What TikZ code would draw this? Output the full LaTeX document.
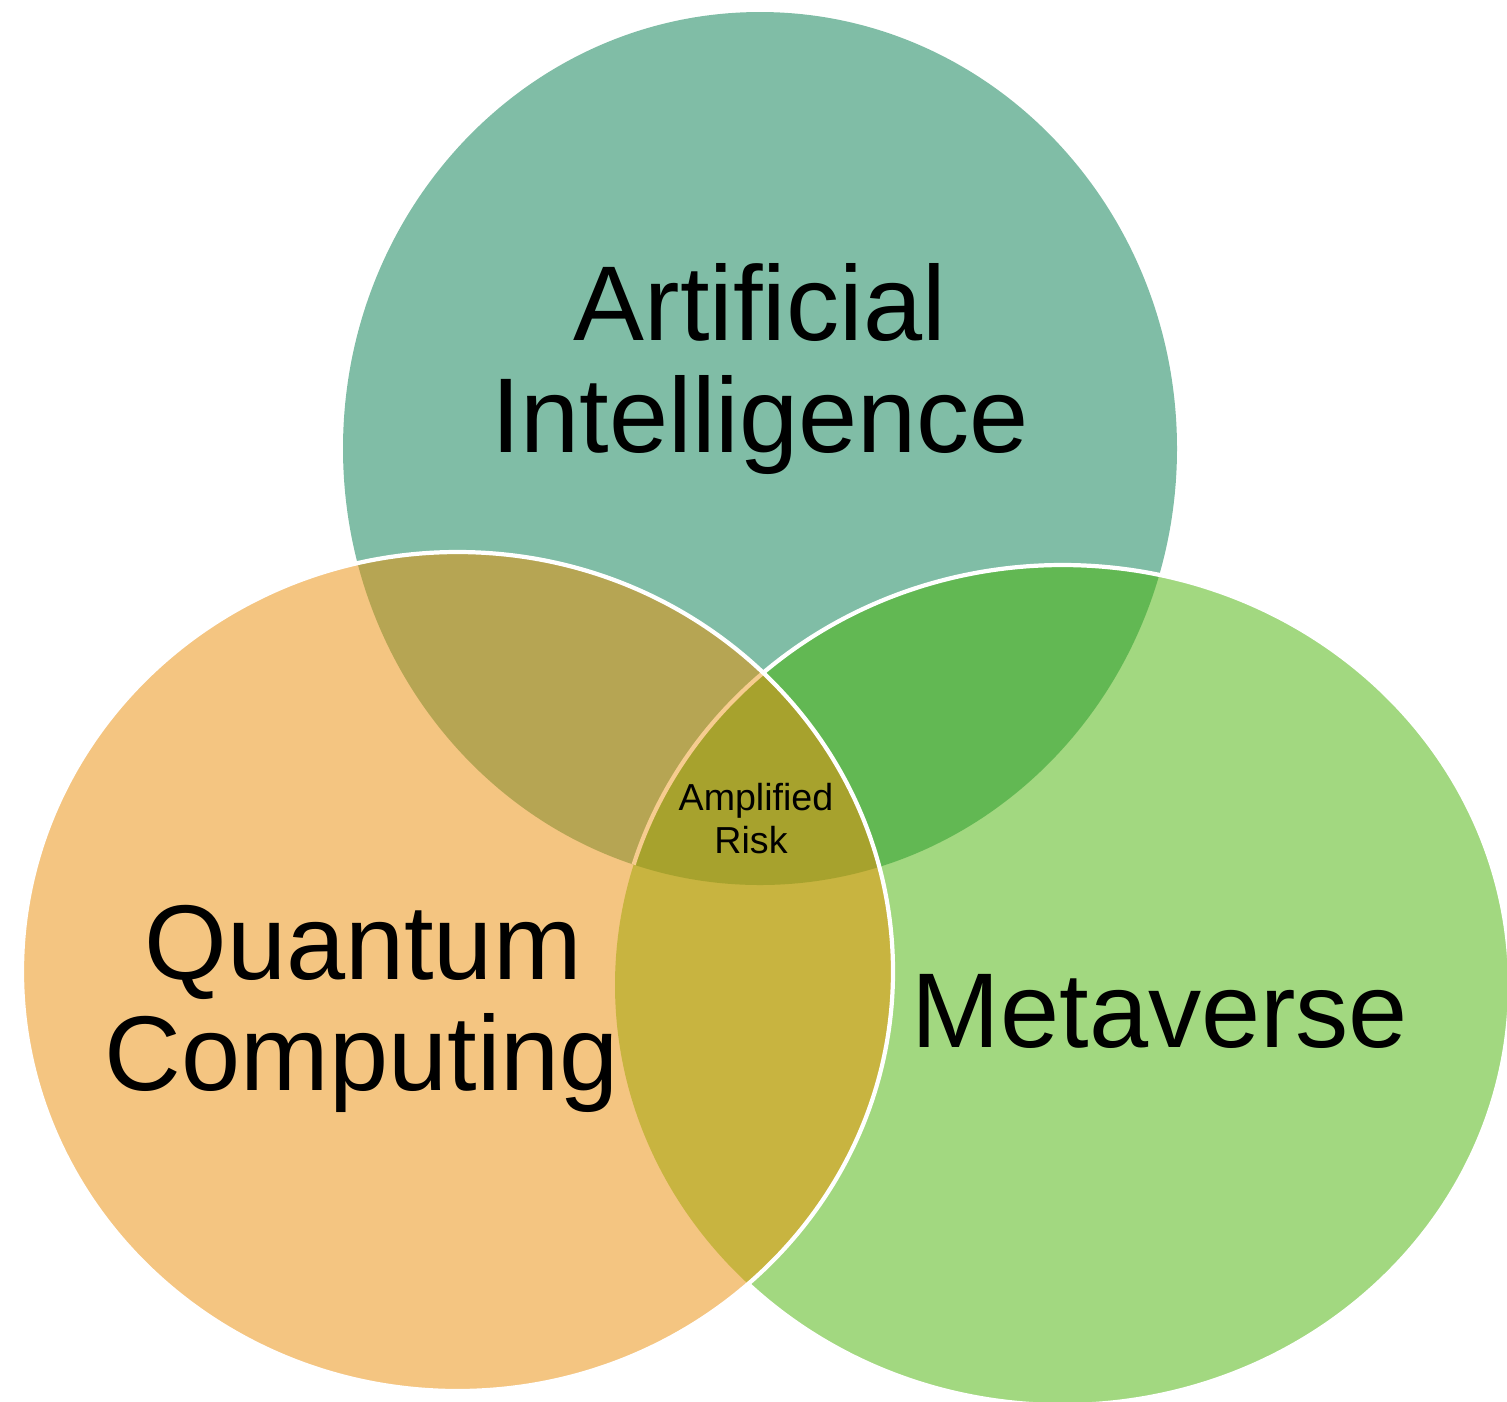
\documentclass[tikz,border=0pt]{standalone}
\usepackage{fontspec}
\setmainfont{Liberation Sans}
\definecolor{aifill}{HTML}{80BDA6}
\definecolor{qcfill}{HTML}{F4C581}
\definecolor{mvfill}{HTML}{A2D880}
\definecolor{aiqcfill}{HTML}{B6A553}
\definecolor{aimvfill}{HTML}{62B853}
\definecolor{qcmvfill}{HTML}{C8B440}
\definecolor{allfill}{HTML}{A7A22D}
\definecolor{softrim}{HTML}{F6CC8F}
\def\aishape{(760,448.5) ellipse [x radius=417, y radius=436.5]}
\def\qcshape{(457.5,971.5) ellipse [x radius=435.5, y radius=419.5]}
\def\mvshape{(1062.5,985) ellipse [x radius=447.5, y radius=420]}
\tikzset{
    rim/.style={draw=white, line width=2.4pt},
    bigtxt/.style={font=\fontsize{60.5}{64}\selectfont, anchor=base},
    smalltxt/.style={font=\fontsize{21.4}{24}\selectfont, anchor=base}
}
\begin{document}
\begin{tikzpicture}[x=0.02cm, y=-0.02cm]
    \useasboundingbox (0,0) rectangle (1507,1401);
    % the three sets
    \fill[aifill] \aishape;
    \fill[mvfill] \mvshape;
    \begin{scope}
        \clip \aishape;
        \fill[aimvfill] \mvshape;
    \end{scope}
    \draw[rim] \mvshape;
    \begin{scope}
        \clip \qcshape;
        \fill[qcfill] \qcshape;
        \begin{scope}
            \clip \aishape;
            \fill[aiqcfill] \qcshape;
        \end{scope}
        \begin{scope}
            \clip \mvshape;
            \fill[qcmvfill] \qcshape;
            \clip \aishape;
            \fill[allfill] \qcshape;
        \end{scope}
        \begin{scope}
            \clip \aishape;
            \draw[draw=softrim, line width=2.4pt] \mvshape;
        \end{scope}
    \end{scope}
    \draw[rim] \qcshape;
    % labels
    \node[bigtxt] (ai1) at (760,340) {Artificial};
    \node[bigtxt] (ai2) at (760,452) {Intelligence};
    \node[bigtxt] (qc1) at (363,979) {Quantum};
    \node[bigtxt] (qc2) at (362,1090) {Computing};
    \node[bigtxt] (mv) at (1160,1047) {Metaverse};
    \node[smalltxt] (risk1) at (756,810) {Amplified};
    \node[smalltxt] (risk2) at (751,853) {Risk};
\end{tikzpicture}
\end{document}
